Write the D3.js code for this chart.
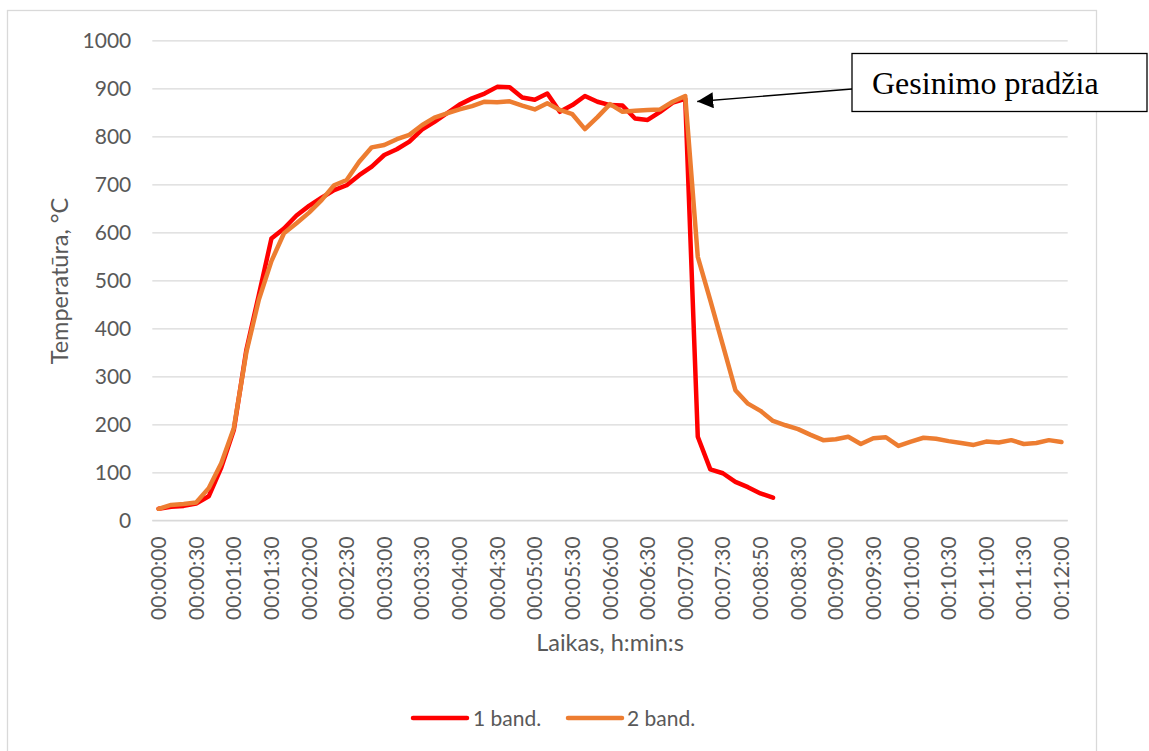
<!DOCTYPE html>
<html>
<head>
<meta charset="utf-8">
<script src="https://cdn.jsdelivr.net/npm/d3@7"></script>
<style>
  html, body { margin: 0; padding: 0; background: #fff; }
  svg { display: block; }
</style>
</head>
<body>
<script>
// ---- data ----
const tickLabels = ["00:00:00","00:00:30","00:01:00","00:01:30","00:02:00","00:02:30","00:03:00","00:03:30",
  "00:04:00","00:04:30","00:05:00","00:05:30","00:06:00","00:06:30","00:07:00","00:07:30","00:08:50",
  "00:08:30","00:09:00","00:09:30","00:10:00","00:10:30","00:11:00","00:11:30","00:12:00"];
const categoryCount = 73;          // one category every 10 s, labelled every 3rd
const labelEvery = 3;
const seriesNames = ["1 band.", "2 band."];
const band1 = [24, 28, 30, 35, 50, 110, 188, 355, 470, 587, 608, 635, 655, 672, 688, 698, 719, 737, 761, 773,
  789, 814, 830, 848, 866, 879, 889, 903, 902, 881, 876, 889, 851, 865, 884, 872, 865, 864, 837, 834,
  851, 870, 878, 174, 106, 98, 80, 69, 56, 47];
const band2 = [24, 32, 34, 37, 67, 119, 192, 350, 460, 540, 598, 619, 641, 667, 698, 709, 747, 777, 782, 794,
  803, 823, 839, 848, 856, 863, 872, 871, 873, 864, 856, 869, 855, 846, 815, 840, 867, 851, 853, 855,
  856, 872, 884, 549, 458, 365, 271, 243, 228, 207, 198, 190, 178, 167, 169, 174, 159, 171, 173, 155,
  164, 172, 170, 165, 161, 157, 164, 162, 167, 159, 161, 167, 163];
const yTicks = [0, 100, 200, 300, 400, 500, 600, 700, 800, 900, 1000];
const annotationText = "Gesinimo pradžia";

// ---- layout ----
const W = 1149, H = 751;
const plot = { left: 152.3, right: 1067.7, top: 40.3, bottom: 520.3 };
const colors = ["#FF0000", "#ED7D31"];
const textColor = "#595959";
const gridColor = "#D9D9D9";
const tickFont = "Lato, 'Noto Sans', sans-serif";

const svg = d3.select("body").append("svg").attr("width", W).attr("height", H);

// chart border
svg.append("rect").attr("x", 7.5).attr("y", 10.5).attr("width", 1089).attr("height", 800)
  .attr("fill", "none").attr("stroke", gridColor).attr("stroke-width", 1.3);

const x = d3.scaleBand().domain(d3.range(categoryCount)).range([plot.left, plot.right]);
const cx = i => x(i) + x.bandwidth() / 2;
const y = d3.scaleLinear().domain([0, 1000]).range([plot.bottom, plot.top]);

// gridlines + y axis labels
const yAxis = d3.axisLeft(y).tickValues(yTicks).tickFormat(d3.format("d"))
  .tickSize(-(plot.right - plot.left)).tickPadding(21);
const gy = svg.append("g").attr("transform", `translate(${plot.left},0)`).call(yAxis);
gy.select(".domain").remove();
gy.selectAll(".tick line").attr("stroke", gridColor).attr("stroke-width", 1.3);
gy.selectAll(".tick text").attr("fill", textColor).style("font-family", tickFont).style("font-size", "21px");

// x axis labels
const xAxis = d3.axisBottom(x)
  .tickValues(d3.range(0, categoryCount, labelEvery))
  .tickFormat(i => tickLabels[i / labelEvery])
  .tickSize(0).tickPadding(0);
const gx = svg.append("g").attr("transform", `translate(0,${plot.bottom})`).call(xAxis);
gx.select(".domain").attr("stroke", gridColor).attr("stroke-width", 1.3)
  .attr("d", `M${plot.left},0H${plot.right}`);
gx.selectAll(".tick text")
  .attr("fill", textColor).style("font-family", tickFont).style("font-size", "21px")
  .attr("text-anchor", "end")
  .attr("transform", "rotate(-90)")
  .attr("x", -16).attr("y", 0).attr("dy", "0.36em");

// axis titles
svg.append("text").attr("transform", `translate(60,281) rotate(-90)`)
  .attr("text-anchor", "middle").attr("dy", "0.35em")
  .attr("fill", textColor).style("font-family", tickFont).style("font-size", "23.5px")
  .text("Temperatūra, °C");
svg.append("text").attr("x", 610).attr("y", 651)
  .attr("text-anchor", "middle")
  .attr("fill", textColor).style("font-family", tickFont).style("font-size", "23.5px")
  .text("Laikas, h:min:s");

// series lines
const line = d3.line().x((d, i) => cx(i)).y(d => y(d));
[band1, band2].forEach((s, k) => {
  svg.append("path").datum(s).attr("d", line)
    .attr("fill", "none").attr("stroke", colors[k]).attr("stroke-width", 4.5)
    .attr("stroke-linejoin", "round").attr("stroke-linecap", "round");
});

// legend
const legendItems = [{ x: 413, tx: 473 }, { x: 568, tx: 627 }];
legendItems.forEach((it, k) => {
  svg.append("line").attr("x1", it.x).attr("x2", it.x + 54).attr("y1", 718).attr("y2", 718)
    .attr("stroke", colors[k]).attr("stroke-width", 4.5).attr("stroke-linecap", "round");
  svg.append("text").attr("x", it.tx).attr("y", 725.5)
    .attr("fill", textColor).style("font-family", tickFont).style("font-size", "21px")
    .text(seriesNames[k]);
});

// annotation
const defs = svg.append("defs");
defs.append("marker").attr("id", "arrow").attr("viewBox", "0 0 16 16")
  .attr("refX", 16).attr("refY", 8).attr("markerWidth", 16).attr("markerHeight", 16)
  .attr("markerUnits", "userSpaceOnUse").attr("orient", "auto")
  .append("path").attr("d", "M0,0 L16,8 L0,16 Z").attr("fill", "#000");
const peakIdx = 42;
svg.append("line").attr("x1", 852).attr("y1", 89).attr("x2", cx(peakIdx) + 12).attr("y2", 101.5)
  .attr("stroke", "#000").attr("stroke-width", 1.3).attr("marker-end", "url(#arrow)");
svg.append("rect").attr("x", 852).attr("y", 53.5).attr("width", 295).attr("height", 58)
  .attr("fill", "#fff").attr("stroke", "#000").attr("stroke-width", 1.3);
svg.append("text").attr("x", 872).attr("y", 94)
  .style("font-family", "'Liberation Serif', 'Times New Roman', serif").style("font-size", "32px")
  .attr("fill", "#000").text(annotationText);
</script>
</body>
</html>
